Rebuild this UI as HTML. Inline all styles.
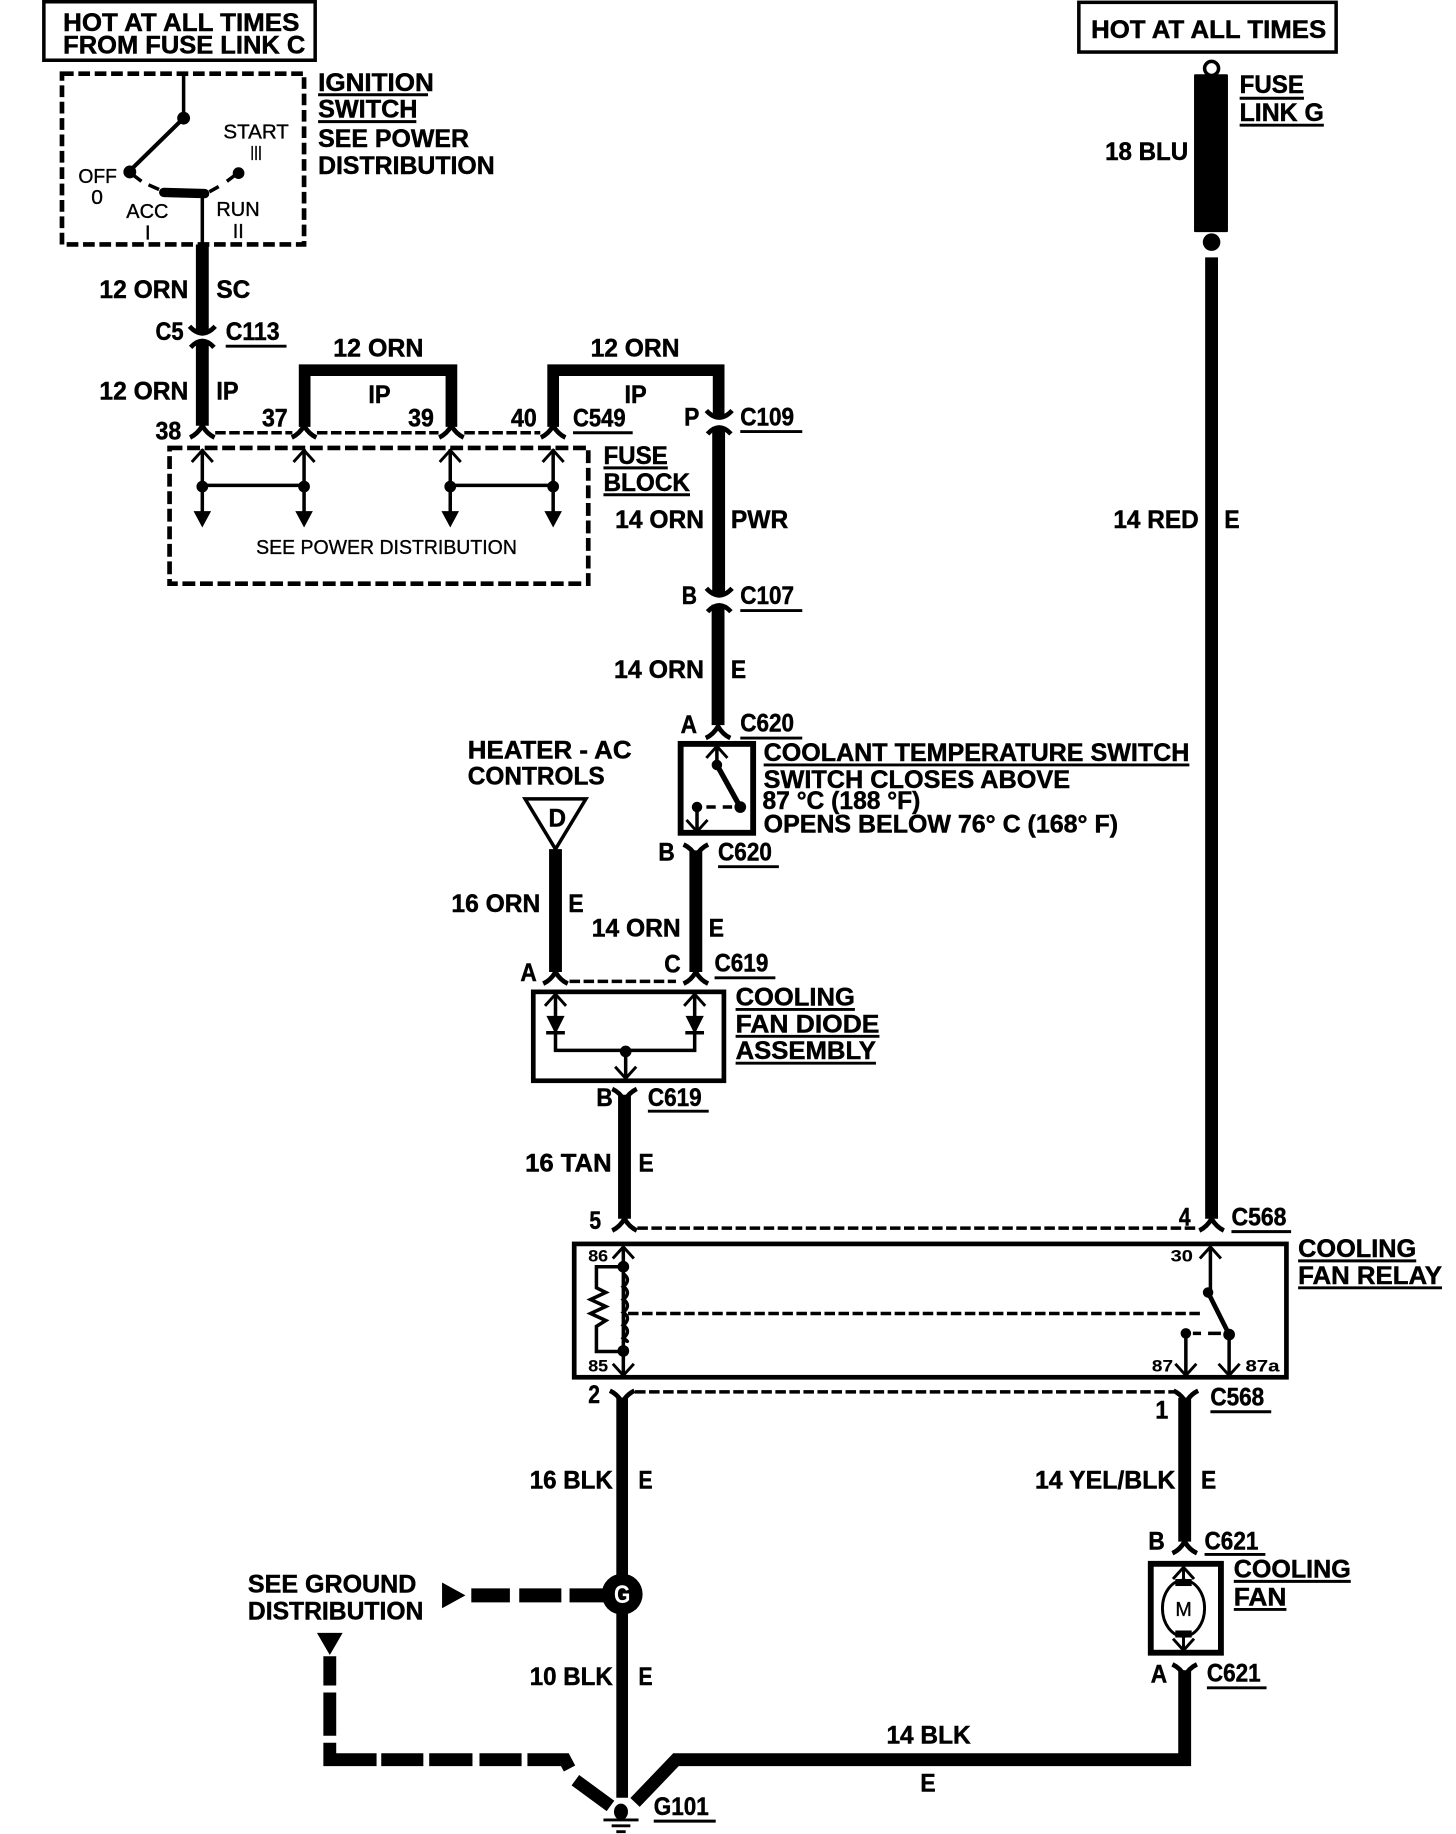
<!DOCTYPE html>
<html><head><meta charset="utf-8"><style>
html,body{margin:0;padding:0;background:#fff}
svg{display:block}
text{font-family:"Liberation Sans",sans-serif;font-weight:bold;font-size:21px;fill:#000;stroke:#000;stroke-width:.4}
.s{font-size:17px;font-weight:normal;stroke-width:.3}
.xs{font-size:14px;stroke-width:.1}
</style></head><body>
<svg width="1456" height="1834" viewBox="0 0 1245 1568" preserveAspectRatio="none" xmlns="http://www.w3.org/2000/svg">
<defs>
<path id="fa" d="M-10.500,5 Q-4,2 0,-5 Q4,2 10.500,5" fill="none" stroke="#000" stroke-width="4"/>
<path id="fv" d="M-10.500,-5 Q-4,-2 0,5 Q4,-2 10.500,-5" fill="none" stroke="#000" stroke-width="4"/>
<path id="au" d="M-9,10 L0,0 L9,10" fill="none" stroke="#000" stroke-width="2.500"/>
<path id="ad" d="M-9,-10 L0,0 L9,-10" fill="none" stroke="#000" stroke-width="2.500"/>
<path id="afd" d="M-7.500,-14 H7.500 L0,0 Z" fill="#000"/>
</defs>
<rect width="1245" height="1568" fill="#fff"/>

<!-- boxes -->
<g fill="none" stroke="#000">
<rect x="37.500" y="1.500" width="232" height="50" stroke-width="3"/>
<rect x="922.500" y="2" width="220" height="42.500" stroke-width="3"/>
<rect x="53" y="63" width="207" height="146" stroke-width="4" stroke-dasharray="10 4"/>
<rect x="145" y="383" width="358" height="116" stroke-width="4" stroke-dasharray="11 4"/>
<rect x="582" y="636" width="62" height="76" stroke-width="5"/>
<rect x="456" y="848" width="163" height="76" stroke-width="4"/>
<rect x="491" y="1063.500" width="609" height="114" stroke-width="4"/>
<rect x="984" y="1337" width="60" height="76" stroke-width="5"/>
</g>

<!-- heavy wires -->
<g fill="none" stroke="#000" stroke-width="11">
<path d="M173,209V283"/>
<path d="M173,291V364"/>
<path d="M260.500,365V316.500H386V365" stroke-width="10"/>
<path d="M473,365V316.500H614.500V357" stroke-width="10"/>
<path d="M614.500,365V509"/>
<path d="M614,517V620"/>
<path d="M475,726V831"/>
<path d="M595,727V831"/>
<path d="M534,936V1042"/>
<path d="M1036,220V1042"/>
<path d="M532,1195V1537" stroke-width="10"/>
<path d="M1013,1195V1318"/>
<path d="M1013,1428V1504.500H578L543,1541"/>
</g>

<!-- connector forks -->
<g>
<path d="M162,279 Q173,291 184,279" fill="none" stroke="#000" stroke-width="4"/>
<path d="M163,297 Q173,286 183,297" fill="none" stroke="#000" stroke-width="4"/>
<path d="M604,351 Q615,363 626,351" fill="none" stroke="#000" stroke-width="4"/>
<path d="M605,371 Q615,360 625,371" fill="none" stroke="#000" stroke-width="4"/>
<path d="M604,503 Q615,515 626,503" fill="none" stroke="#000" stroke-width="4"/>
<path d="M605,523 Q615,512 625,523" fill="none" stroke="#000" stroke-width="4"/>
<use href="#fa" x="173" y="369"/>
<use href="#fa" x="260" y="369"/>
<use href="#fa" x="386" y="369"/>
<use href="#fa" x="473" y="369"/>
<use href="#fa" x="614" y="626"/>
<use href="#fv" x="595" y="727"/>
<use href="#fa" x="475" y="836"/>
<use href="#fa" x="595" y="836"/>
<use href="#fv" x="534" y="936"/>
<use href="#fa" x="534" y="1047"/>
<use href="#fa" x="1036" y="1047"/>
<use href="#fv" x="532" y="1194"/>
<use href="#fv" x="1014" y="1194"/>
<use href="#fa" x="1013" y="1323"/>
<use href="#fv" x="1013" y="1428"/>
</g>

<!-- thin dashed -->
<g fill="none" stroke="#000" stroke-width="3" stroke-dasharray="9 3">
<path d="M184,370H250M271,370H375M397,370H462"/>
<path d="M487,839H578"/>
<path d="M545,1050H1025"/>
<path d="M543,1190H1004"/>
</g>
<path d="M537,1123H1027" fill="none" stroke="#000" stroke-width="3" stroke-dasharray="9 3"/>

<!-- ignition internals -->
<g fill="none" stroke="#000" stroke-width="3">
<path d="M157,65V101"/>
<path d="M157,101L110,147" stroke-width="3.500"/>
<path d="M173,166V209" />
<path d="M113,149L121,155M127,158L136,162M179,164L187,159.500M194,155L202,149"/>
</g>
<path d="M140,164.500L175,165.500" stroke="#000" stroke-width="8" stroke-linecap="round"/>
<circle cx="157" cy="101" r="5.500"/><circle cx="111" cy="147" r="5.500"/><circle cx="204" cy="148" r="5"/>

<!-- fuse block internals -->
<g fill="none" stroke="#000" stroke-width="3">
<path d="M173,384V442M260,384V442M385,384V442M473,384V442M173,415H260M385,415H473"/>
</g>
<g><use href="#au" x="173" y="385"/><use href="#au" x="260" y="385"/><use href="#au" x="385" y="385"/><use href="#au" x="473" y="385"/>
<use href="#afd" x="173" y="451"/><use href="#afd" x="260" y="451"/><use href="#afd" x="385" y="451"/><use href="#afd" x="473" y="451"/>
<circle cx="173" cy="416" r="5"/><circle cx="260" cy="416" r="5"/><circle cx="385" cy="416" r="5"/><circle cx="473" cy="416" r="5"/></g>

<!-- coolant switch -->
<g fill="none" stroke="#000" stroke-width="3">
<path d="M613,638V654"/>
<path d="M596,690V711"/>
</g>
<path d="M613,654L633,690" stroke="#000" stroke-width="4.500"/>
<path d="M604,690H612M618,690H626" stroke="#000" stroke-width="3"/>
<circle cx="613" cy="654" r="4.500"/><circle cx="633" cy="690" r="5"/><circle cx="596" cy="690" r="4.500"/>
<use href="#au" x="613" y="638"/><use href="#ad" x="596" y="711"/>

<!-- D triangle -->
<path d="M449,683H501L475,726Z" fill="#fff" stroke="#000" stroke-width="3"/>

<!-- diode assembly -->
<g fill="none" stroke="#000" stroke-width="3">
<path d="M475,850V898H594V850M535,898V922"/>
<path d="M467,883H483M586,883H602" stroke-width="3"/>
</g>
<path d="M468,869H482L475,883Z M587,869H601L594,883Z" stroke="#000"/>
<circle cx="535" cy="899" r="5"/>
<use href="#au" x="475" y="850"/><use href="#au" x="594" y="850"/><use href="#ad" x="535" y="922"/>

<!-- relay -->
<g fill="none" stroke="#000" stroke-width="3">
<path d="M533,1066V1176"/>
<path d="M533,1083H510V1101L518,1105L505,1111L518,1117L505,1123L518,1129L510,1134V1155.500H533"/>
<path d="M533,1089 q7,5 0,11 q7,5 0,11 q7,5 0,11 q7,5 0,11 q7,5 0,11 q7,5 0,1"/>
<path d="M1035,1066V1103"/>
<path d="M1014,1141V1176M1051,1141V1176"/>
<path d="M1020,1140H1027M1033,1140H1044" />
</g>
<path d="M1033,1105L1051,1141" stroke="#000" stroke-width="4"/>
<circle cx="533" cy="1083" r="5"/><circle cx="533" cy="1155" r="5"/>
<circle cx="1033" cy="1105" r="4.500"/><circle cx="1051" cy="1141" r="5"/><circle cx="1014" cy="1140" r="4.500"/>
<use href="#au" x="533" y="1066"/><use href="#ad" x="533" y="1176"/><use href="#au" x="1035" y="1066"/><use href="#ad" x="1014" y="1176"/><use href="#ad" x="1051" y="1176"/>

<!-- fuse link -->
<circle cx="1036" cy="58.500" r="6" fill="#fff" stroke="#000" stroke-width="3"/>
<rect x="1021" y="63.500" width="29" height="135" rx="1"/>
<circle cx="1036" cy="207" r="7.500"/>

<!-- fan motor -->
<g fill="none" stroke="#000" stroke-width="2.500">
<path d="M1012,1340V1352M1012,1398V1411"/>
<ellipse cx="1012" cy="1375" rx="18" ry="24"/>
</g>
<rect x="1005" y="1350" width="14" height="6"/><rect x="1005" y="1394" width="14" height="6"/>
<use href="#au" x="1012" y="1340"/><use href="#ad" x="1012" y="1411"/>

<!-- G splice -->
<circle cx="532" cy="1363" r="17.500"/>

<!-- ground dist -->
<path d="M378,1353L398,1364L378,1375Z"/>
<path d="M403,1364H436M444,1364H480M487,1364H516" stroke="#000" stroke-width="12" fill="none"/>
<path d="M271,1396H293L282,1415Z"/>
<path d="M282,1416V1441M282,1447V1484M282,1490V1504.500H322M326,1504.500H362M367,1504.500H404M410,1504.500H446M451,1504.500H483L487,1512M492,1522L522,1544" fill="none" stroke="#000" stroke-width="11"/>

<!-- ground -->
<ellipse cx="531" cy="1549" rx="6" ry="7"/>
<path d="M516,1556H546M523,1561H539M527,1566H535" stroke="#000" stroke-width="2.500"/>

<!-- underlines -->
<g stroke="#000" stroke-width="2.500">
<path d="M272,81H366M272,104H356M193,296H245M490,370H541M633,369H686M516,400H571M516,423H590M633,522H686M633,631H686"/>
<path d="M653,654H1017M614,741H666M611,836H663M629,863H731M629,886H752M629,909H749M554,950H606"/>
<path d="M1053,1053H1104M1110,1078H1211M1110,1101H1233M1035,1207H1087M1030,1329H1082M1055,1352H1155M1055,1376H1100M1032,1443H1083M559,1557H612"/>
<path d="M1060,84H1115M1060,107H1132"/>
</g>

<!-- text -->
<g transform="translate(0,.6)">
<text x="54" y="26" textLength="202" lengthAdjust="spacingAndGlyphs">HOT AT ALL TIMES</text>
<text x="54" y="45" textLength="207" lengthAdjust="spacingAndGlyphs">FROM FUSE LINK C</text>
<text x="933" y="32" textLength="201" lengthAdjust="spacingAndGlyphs">HOT AT ALL TIMES</text>
<text x="272" y="77" textLength="99" lengthAdjust="spacingAndGlyphs">IGNITION</text>
<text x="272" y="100" textLength="85" lengthAdjust="spacingAndGlyphs">SWITCH</text>
<text x="272" y="125" textLength="129" lengthAdjust="spacingAndGlyphs">SEE POWER</text>
<text x="272" y="148" textLength="151" lengthAdjust="spacingAndGlyphs">DISTRIBUTION</text>
<text class="s" x="191" y="118" textLength="56" lengthAdjust="spacingAndGlyphs">START</text>
<text class="s" x="214" y="136" textLength="10" lengthAdjust="spacingAndGlyphs">III</text>
<text class="s" x="67" y="156" textLength="33" lengthAdjust="spacingAndGlyphs">OFF</text>
<text class="s" x="78" y="174" textLength="10" lengthAdjust="spacingAndGlyphs">0</text>
<text class="s" x="108" y="186" textLength="36" lengthAdjust="spacingAndGlyphs">ACC</text>
<text class="s" x="124" y="204">I</text>
<text class="s" x="185" y="184" textLength="37" lengthAdjust="spacingAndGlyphs">RUN</text>
<text class="s" x="199" y="203">II</text>
<text x="85" y="254" textLength="76" lengthAdjust="spacingAndGlyphs">12 ORN</text>
<text x="185" y="254" textLength="29" lengthAdjust="spacingAndGlyphs">SC</text>
<text x="133" y="290" textLength="24" lengthAdjust="spacingAndGlyphs">C5</text>
<text x="193" y="290" textLength="46" lengthAdjust="spacingAndGlyphs">C113</text>
<text x="85" y="341" textLength="76" lengthAdjust="spacingAndGlyphs">12 ORN</text>
<text x="185" y="341" textLength="19" lengthAdjust="spacingAndGlyphs">IP</text>
<text x="133" y="375" textLength="22" lengthAdjust="spacingAndGlyphs">38</text>
<text x="224" y="364" textLength="22" lengthAdjust="spacingAndGlyphs">37</text>
<text x="349" y="364" textLength="22" lengthAdjust="spacingAndGlyphs">39</text>
<text x="437" y="364" textLength="22" lengthAdjust="spacingAndGlyphs">40</text>
<text x="490" y="364" textLength="45" lengthAdjust="spacingAndGlyphs">C549</text>
<text x="285" y="304" textLength="77" lengthAdjust="spacingAndGlyphs">12 ORN</text>
<text x="315" y="344" textLength="19" lengthAdjust="spacingAndGlyphs">IP</text>
<text x="505" y="304" textLength="76" lengthAdjust="spacingAndGlyphs">12 ORN</text>
<text x="534" y="344" textLength="19" lengthAdjust="spacingAndGlyphs">IP</text>
<text x="585" y="363" textLength="13" lengthAdjust="spacingAndGlyphs">P</text>
<text x="633" y="363" textLength="46" lengthAdjust="spacingAndGlyphs">C109</text>
<text x="516" y="396" textLength="55" lengthAdjust="spacingAndGlyphs">FUSE</text>
<text x="516" y="419" textLength="74" lengthAdjust="spacingAndGlyphs">BLOCK</text>
<text class="s" x="219" y="473" textLength="223" lengthAdjust="spacingAndGlyphs">SEE POWER DISTRIBUTION</text>
<text x="526" y="451" textLength="76" lengthAdjust="spacingAndGlyphs">14 ORN</text>
<text x="625" y="451" textLength="49" lengthAdjust="spacingAndGlyphs">PWR</text>
<text x="583" y="516" textLength="13" lengthAdjust="spacingAndGlyphs">B</text>
<text x="633" y="516" textLength="46" lengthAdjust="spacingAndGlyphs">C107</text>
<text x="525" y="579" textLength="77" lengthAdjust="spacingAndGlyphs">14 ORN</text>
<text x="625" y="579" textLength="13" lengthAdjust="spacingAndGlyphs">E</text>
<text x="582" y="626" textLength="14" lengthAdjust="spacingAndGlyphs">A</text>
<text x="633" y="625" textLength="46" lengthAdjust="spacingAndGlyphs">C620</text>
<text x="653" y="650" textLength="364" lengthAdjust="spacingAndGlyphs">COOLANT TEMPERATURE SWITCH</text>
<text x="653" y="673" textLength="262" lengthAdjust="spacingAndGlyphs">SWITCH CLOSES ABOVE</text>
<text x="652" y="691" textLength="135" lengthAdjust="spacingAndGlyphs">87 °C (188 °F)</text>
<text x="653" y="711" textLength="303" lengthAdjust="spacingAndGlyphs">OPENS BELOW 76° C (168° F)</text>
<text x="400" y="648" textLength="140" lengthAdjust="spacingAndGlyphs">HEATER - AC</text>
<text x="400" y="670" textLength="117" lengthAdjust="spacingAndGlyphs">CONTROLS</text>
<text x="469" y="706" textLength="15" lengthAdjust="spacingAndGlyphs">D</text>
<text x="563" y="735" textLength="14" lengthAdjust="spacingAndGlyphs">B</text>
<text x="614" y="735" textLength="46" lengthAdjust="spacingAndGlyphs">C620</text>
<text x="386" y="779" textLength="76" lengthAdjust="spacingAndGlyphs">16 ORN</text>
<text x="486" y="779" textLength="13" lengthAdjust="spacingAndGlyphs">E</text>
<text x="506" y="800" textLength="76" lengthAdjust="spacingAndGlyphs">14 ORN</text>
<text x="606" y="800" textLength="13" lengthAdjust="spacingAndGlyphs">E</text>
<text x="445" y="838" textLength="14" lengthAdjust="spacingAndGlyphs">A</text>
<text x="568" y="831" textLength="14" lengthAdjust="spacingAndGlyphs">C</text>
<text x="611" y="830" textLength="46" lengthAdjust="spacingAndGlyphs">C619</text>
<text x="629" y="859" textLength="102" lengthAdjust="spacingAndGlyphs">COOLING</text>
<text x="629" y="882" textLength="123" lengthAdjust="spacingAndGlyphs">FAN DIODE</text>
<text x="629" y="905" textLength="120" lengthAdjust="spacingAndGlyphs">ASSEMBLY</text>
<text x="510" y="945" textLength="14" lengthAdjust="spacingAndGlyphs">B</text>
<text x="554" y="945" textLength="46" lengthAdjust="spacingAndGlyphs">C619</text>
<text x="449" y="1001" textLength="74" lengthAdjust="spacingAndGlyphs">16 TAN</text>
<text x="546" y="1001" textLength="13" lengthAdjust="spacingAndGlyphs">E</text>
<text x="504" y="1050" textLength="10" lengthAdjust="spacingAndGlyphs">5</text>
<text x="1008" y="1047" textLength="10" lengthAdjust="spacingAndGlyphs">4</text>
<text x="1053" y="1047" textLength="47" lengthAdjust="spacingAndGlyphs">C568</text>
<text x="1110" y="1074" textLength="101" lengthAdjust="spacingAndGlyphs">COOLING</text>
<text x="1110" y="1097" textLength="123" lengthAdjust="spacingAndGlyphs">FAN RELAY</text>
<text class="xs" x="503" y="1078" textLength="17" lengthAdjust="spacingAndGlyphs">86</text>
<text class="xs" x="503" y="1172" textLength="17" lengthAdjust="spacingAndGlyphs">85</text>
<text class="xs" x="1001" y="1078" textLength="19" lengthAdjust="spacingAndGlyphs">30</text>
<text class="xs" x="985" y="1172" textLength="18" lengthAdjust="spacingAndGlyphs">87</text>
<text class="xs" x="1065" y="1172" textLength="29" lengthAdjust="spacingAndGlyphs">87a</text>
<text x="503" y="1199" textLength="10" lengthAdjust="spacingAndGlyphs">2</text>
<text x="988" y="1212" textLength="11" lengthAdjust="spacingAndGlyphs">1</text>
<text x="1035" y="1201" textLength="46" lengthAdjust="spacingAndGlyphs">C568</text>
<text x="453" y="1272" textLength="71" lengthAdjust="spacingAndGlyphs">16 BLK</text>
<text x="546" y="1272" textLength="12" lengthAdjust="spacingAndGlyphs">E</text>
<text x="885" y="1272" textLength="120" lengthAdjust="spacingAndGlyphs">14 YEL/BLK</text>
<text x="1027" y="1272" textLength="13" lengthAdjust="spacingAndGlyphs">E</text>
<text x="982" y="1324" textLength="14" lengthAdjust="spacingAndGlyphs">B</text>
<text x="1030" y="1324" textLength="46" lengthAdjust="spacingAndGlyphs">C621</text>
<text x="1055" y="1348" textLength="100" lengthAdjust="spacingAndGlyphs">COOLING</text>
<text x="1055" y="1372" textLength="45" lengthAdjust="spacingAndGlyphs">FAN</text>
<text class="s" x="1005" y="1381" textLength="14" lengthAdjust="spacingAndGlyphs">M</text>
<text x="212" y="1361" textLength="144" lengthAdjust="spacingAndGlyphs">SEE GROUND</text>
<text x="212" y="1384" textLength="150" lengthAdjust="spacingAndGlyphs">DISTRIBUTION</text>
<text x="525" y="1370" textLength="14" lengthAdjust="spacingAndGlyphs" style="fill:#fff;stroke:none">G</text>
<text x="984" y="1438" textLength="14" lengthAdjust="spacingAndGlyphs">A</text>
<text x="1032" y="1437" textLength="46" lengthAdjust="spacingAndGlyphs">C621</text>
<text x="453" y="1440" textLength="71" lengthAdjust="spacingAndGlyphs">10 BLK</text>
<text x="546" y="1440" textLength="12" lengthAdjust="spacingAndGlyphs">E</text>
<text x="758" y="1490" textLength="72" lengthAdjust="spacingAndGlyphs">14 BLK</text>
<text x="787" y="1531" textLength="13" lengthAdjust="spacingAndGlyphs">E</text>
<text x="559" y="1551" textLength="47" lengthAdjust="spacingAndGlyphs">G101</text>
<text x="945" y="136" textLength="71" lengthAdjust="spacingAndGlyphs">18 BLU</text>
<text x="952" y="451" textLength="73" lengthAdjust="spacingAndGlyphs">14 RED</text>
<text x="1047" y="451" textLength="13" lengthAdjust="spacingAndGlyphs">E</text>
<text x="1060" y="79" textLength="55" lengthAdjust="spacingAndGlyphs">FUSE</text>
<text x="1060" y="103" textLength="72" lengthAdjust="spacingAndGlyphs">LINK G</text>
</g>
</svg>
</body></html>
